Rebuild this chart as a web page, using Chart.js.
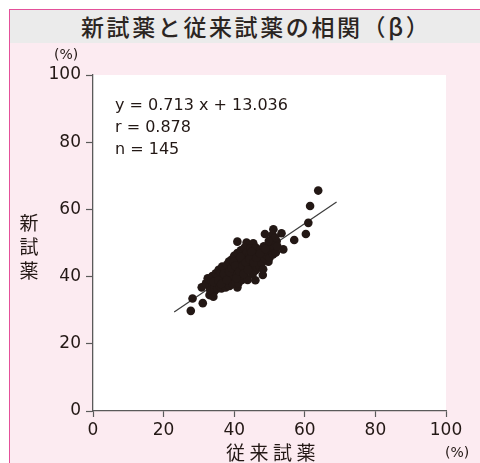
<!DOCTYPE html>
<html lang="ja">
<head>
<meta charset="utf-8">
<script src="https://cdn.jsdelivr.net/npm/chart.js@4/dist/chart.umd.min.js"></script>
<style>
  html, body { margin: 0; padding: 0; background: #ffffff; }
  body { width: 480px; height: 463px; overflow: hidden; position: relative; font-family: "Noto Sans CJK JP", "Noto Sans", sans-serif; color: #231815; }
  #frame { position: absolute; left: 9px; top: 9px; width: 471px; height: 454px; background: #fcebf1; border-left: 1.5px solid #e4509a; border-top: 1.5px solid #e4509a; box-sizing: border-box; }
  #band { position: absolute; left: 0; top: 0; right: 0; height: 33px; background: #ebebeb; }
  #title { position: absolute; left: 71px; top: 1px; font-size: 23px; font-weight: 500; letter-spacing: 2.6px; line-height: 30px; white-space: nowrap; color: #2b2522; }
  canvas { position: absolute; left: 0; top: 0; }
  .lbl { position: absolute; white-space: nowrap; color: #231815; }
  #ytitle { left: 19px; top: 210px; font-size: 19px; line-height: 24px; width: 20px; text-align: center; }
  #xtitle { left: 226px; top: 441px; font-size: 19px; line-height: 22px; letter-spacing: 4.5px; }
  .unit { font-family: "DejaVu Sans", sans-serif; font-size: 14px; line-height: 15px; }
  #yunit { left: 54px; top: 47px; }
  #xunit { left: 445px; top: 445px; }
</style>
</head>
<body>
<div id="frame"><div id="band"><div id="title">新試薬と従来試薬の相関（β）</div></div></div>
<canvas id="chart" width="480" height="463"></canvas>
<div class="lbl" id="ytitle">新<br>試<br>薬</div>
<div class="lbl" id="xtitle">従来試薬</div>
<div class="lbl unit" id="yunit">(%)</div>
<div class="lbl unit" id="xunit">(%)</div>
<script>
// Paired measurements (%): conventional reagent (x) vs new reagent (y)
const oldDrug = [
  27.7, 28.2, 31.1, 30.8, 34.3, 63.8, 61.5, 61.0, 60.3, 57.0,
  53.9, 51.1, 53.4, 48.7, 40.9, 43.5, 45.4, 48.1, 49.7, 50.5,
  52.0, 33.0, 34.1, 40.9, 46.0,
  32.0, 32.5, 33.0, 33.2, 33.5, 33.8, 34.0, 34.4, 34.6, 34.8,
  35.0, 35.2, 35.4, 35.6, 35.8, 36.0, 36.2, 36.4, 36.6, 36.8, 36.9,
  37.0, 37.2, 37.4, 37.6, 37.8, 38.0, 38.1, 38.3, 38.5, 38.7, 38.9, 39.0,
  39.2, 39.4, 39.5, 39.7, 39.9, 40.0, 40.2, 40.4, 40.6, 40.8, 40.9,
  41.0, 41.2, 41.3, 41.5, 41.7, 41.9, 42.0, 42.2, 42.4, 42.6, 42.8, 42.9,
  43.0, 43.2, 43.4, 43.6, 43.8, 44.0, 44.2, 44.4, 44.6, 44.8,
  45.0, 45.2, 45.4, 45.6, 45.8, 46.0, 46.2, 46.4, 46.6, 46.8,
  47.0, 47.2, 47.4, 47.6, 47.8, 48.0, 48.2, 48.4, 48.6,
  49.0, 49.3, 49.6, 50.0, 50.3, 50.6, 51.0, 51.4, 51.8, 52.2,
  34.2, 35.5, 36.3, 37.1, 37.9, 38.6, 39.3, 39.8, 40.3, 40.7,
  41.4, 41.8, 42.3, 42.7, 43.3, 43.9, 44.3, 44.9, 45.5, 46.3,
  47.3, 48.8, 50.8, 51.6, 49.8
];
const newDrug = [
  29.8, 33.5, 32.1, 36.8, 35.5, 65.6, 61.0, 56.0, 52.7, 50.9,
  48.1, 54.1, 52.9, 52.7, 50.4, 50.1, 49.9, 40.5, 44.4, 51.0,
  50.5, 34.5, 34.0, 36.8, 38.9,
  38.0, 39.5, 37.0, 36.0, 38.8, 40.2, 37.5, 36.5, 39.0, 41.0,
  38.0, 36.4, 40.0, 42.0, 37.2, 39.0, 41.2, 36.5, 43.0, 38.4, 40.4,
  37.6, 42.0, 39.6, 36.8, 41.0, 43.6, 38.2, 40.2, 44.5, 37.2, 42.0, 39.4,
  45.0, 41.0, 37.8, 43.0, 39.9, 46.2, 41.9, 38.5, 44.0, 40.8, 47.0,
  42.8, 38.0, 45.0, 40.0, 43.8, 47.8, 41.2, 39.0, 46.0, 44.2, 42.0, 48.6,
  40.2, 45.4, 43.0, 47.2, 39.0, 44.6, 41.8, 46.4, 48.4, 42.8,
  45.2, 40.6, 47.6, 43.6, 46.0, 41.8, 48.6, 44.6, 42.6, 47.0,
  45.4, 43.0, 48.0, 46.0, 44.0, 47.2, 42.2, 49.0, 45.4,
  47.6, 46.2, 48.8, 45.6, 47.8, 49.6, 46.6, 48.4, 47.2, 49.0,
  38.4, 38.8, 37.8, 40.8, 39.0, 41.4, 42.6, 44.4, 43.2, 39.6,
  41.6, 45.8, 43.2, 40.8, 44.2, 42.0, 45.2, 47.4, 44.2, 45.6,
  46.8, 48.2, 52.4, 51.6, 50.6
];

// Regression results
const slope = 0.713;
const intercept = 13.036;
const corrR = 0.878;
const lineRange = [23, 69];
const axisTicks = [0, 20, 40, 60, 80, 100];

const points = oldDrug.map((x, i) => ({ x: x, y: newDrug[i] }));
const fitLine = lineRange.map(x => ({ x: x, y: slope * x + intercept }));
const statLines = [
  'y = ' + slope.toFixed(3) + ' x + ' + intercept.toFixed(3),
  'r = ' + corrR.toFixed(3),
  'n = ' + points.length
];

const ink = '#231815';
const axisColor = '#5a5a5a';
const tickFont = { family: 'DejaVu Sans', size: 17 };

// White plot panel behind the data
const panelPlugin = {
  id: 'panel',
  beforeDraw(chart) {
    const a = chart.chartArea, c = chart.ctx;
    c.save();
    c.fillStyle = '#ffffff';
    c.fillRect(a.left, a.top, a.right - a.left, a.bottom - a.top);
    c.restore();
  }
};

// Regression statistics in the upper-left corner of the plot
const statsPlugin = {
  id: 'stats',
  afterDatasetsDraw(chart) {
    const a = chart.chartArea, c = chart.ctx;
    c.save();
    c.fillStyle = ink;
    c.font = '16px "DejaVu Sans"';
    c.textBaseline = 'middle';
    statLines.forEach((t, i) => c.fillText(t, a.left + 22, a.top + 31 + i * 22));
    c.restore();
  }
};

new Chart(document.getElementById('chart'), {
  data: {
    datasets: [
      {
        type: 'scatter',
        data: points,
        backgroundColor: ink,
        borderColor: ink,
        pointRadius: 4.3,
        pointBorderWidth: 0,
        order: 0
      },
      {
        type: 'line',
        data: fitLine,
        borderColor: '#3c3c3c',
        borderWidth: 1.2,
        pointRadius: 0,
        fill: false,
        order: 1
      }
    ]
  },
  options: {
    responsive: false,
    animation: false,
    devicePixelRatio: 1,
    layout: { padding: { left: 0, right: 34, top: 75, bottom: 0 } },
    plugins: { legend: { display: false }, tooltip: { enabled: false } },
    scales: {
      x: {
        type: 'linear', min: 0, max: 100,
        afterBuildTicks: s => { s.ticks = axisTicks.map(v => ({ value: v })); },
        afterFit: s => { s.height = 52; },
        ticks: { font: tickFont, color: ink, padding: 3, maxRotation: 0 },
        grid: { drawOnChartArea: false, tickLength: 6, color: axisColor, tickWidth: 1.2 },
        border: { color: axisColor, width: 1.3 }
      },
      y: {
        type: 'linear', min: 0, max: 100,
        afterBuildTicks: s => { s.ticks = axisTicks.map(v => ({ value: v })); },
        afterFit: s => { s.width = 93; },
        ticks: { font: tickFont, color: ink, padding: 5 },
        grid: { drawOnChartArea: false, tickLength: 7, color: axisColor, tickWidth: 1.2 },
        border: { color: axisColor, width: 1.3 }
      }
    }
  },
  plugins: [panelPlugin, statsPlugin]
});
</script>
</body>
</html>
